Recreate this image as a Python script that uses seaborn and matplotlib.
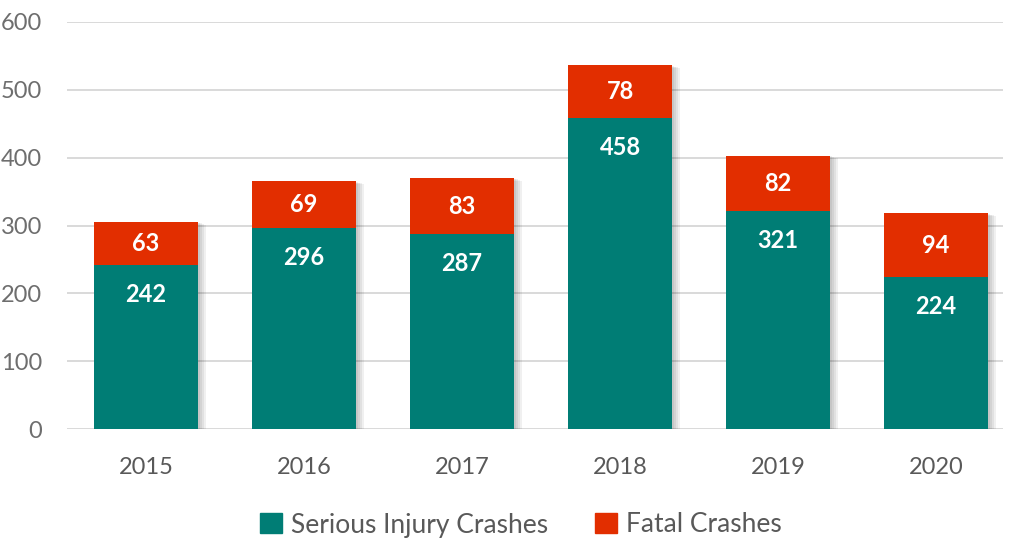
import pandas as pd
import matplotlib.pyplot as plt
import seaborn as sns
from matplotlib.patches import Patch

years = ["2015", "2016", "2017", "2018", "2019", "2020"]
serious_injury = [242, 296, 287, 458, 321, 224]
fatal = [63, 69, 83, 78, 82, 94]

TEAL = "#007D75"
RED = "#E22E00"

sns.set_theme(style="white")
plt.rcParams["font.family"] = ["Lato", "DejaVu Sans"]

df = pd.DataFrame({"year": years, "serious": serious_injury, "fatal": fatal})
df["total"] = df["serious"] + df["fatal"]

fig = plt.figure(figsize=(10.11, 5.44), dpi=100)
W, H = 1011, 544
ax = fig.add_axes([67 / W, 1 - 429 / H, (1003 - 67) / W, (429 - 22) / H])

bar_w = 104 / 158

# sombra suave detras de las barras
for i in range(4):
    off = 0.012 * (i + 1)
    ax.bar([k + off for k in range(len(df))], df["total"], width=bar_w,
           bottom=-1.0 * (i + 1), color="black", alpha=0.06, zorder=1, linewidth=0)

# barras apiladas
sns.barplot(x="year", y="total", data=df, color=RED, width=bar_w, ax=ax,
            saturation=1, zorder=3)
sns.barplot(x="year", y="serious", data=df, color=TEAL, width=bar_w, ax=ax,
            saturation=1, zorder=4)

for p in ax.patches:
    p.set_linewidth(0)

# etiquetas de valores
for i, row in df.iterrows():
    ax.annotate(str(row["serious"]), (i, row["serious"]), xytext=(0, -21),
                textcoords="offset points", ha="center", va="center",
                color="white", fontsize=17, fontweight="bold", zorder=5)
    ax.text(i, row["serious"] + row["fatal"] / 2, str(row["fatal"]), ha="center",
            va="center", color="white", fontsize=17, fontweight="bold", zorder=5)

ax.set_ylim(0, 600)
ax.set_yticks(range(0, 601, 100))
ax.set_xlim(-0.5, (1003 - 67) / 158 - 0.5)
ax.yaxis.grid(True, color="#D9D9D9", linewidth=1.4, zorder=0)
ax.set_axisbelow(True)
for s in ax.spines.values():
    s.set_visible(False)

ax.set_xlabel("")
ax.set_ylabel("")
ax.tick_params(axis="y", length=0, pad=18, labelsize=17, labelcolor="#6E6E6E")
ax.tick_params(axis="x", length=0, pad=20, labelsize=17, labelcolor="#595959")

handles = [Patch(color=TEAL, label="Serious Injury Crashes"),
           Patch(color=RED, label="Fatal Crashes")]
fig.legend(handles=handles, loc="center", bbox_to_anchor=(521 / W, 1 - 525 / H),
           ncol=2, frameon=False, fontsize=19, handlelength=0.8, handleheight=0.8,
           handletextpad=0.35, columnspacing=1.8, labelcolor="#595959")

fig.savefig("out.png", dpi=100)
